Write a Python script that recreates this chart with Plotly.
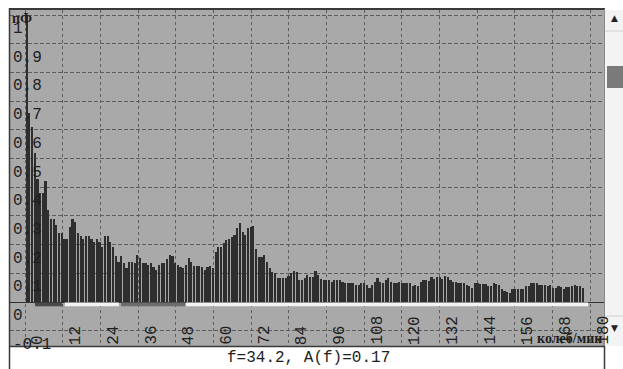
import plotly.graph_objects as go

# ---------------- data ----------------
F0 = 0.6      # first spectral line, колеб/мин
DF = 0.86     # spectral resolution, колеб/мин

amp_low = [1.0, 0.66, 0.61, 0.52, 0.43, 0.38, 0.38, 0.42, 0.32, 0.29,
           0.29, 0.27, 0.24, 0.24, 0.22, 0.22, 0.26, 0.29, 0.28, 0.24,
           0.23, 0.22, 0.23, 0.23, 0.22, 0.21, 0.22, 0.21, 0.19, 0.23,
           0.23, 0.21, 0.19, 0.16, 0.14, 0.16, 0.135, 0.12, 0.14, 0.14]
amp_mid = [0.135, 0.164, 0.153, 0.135, 0.135, 0.13, 0.135, 0.122, 0.11, 0.13,
           0.135, 0.135, 0.15, 0.164, 0.16, 0.135, 0.13, 0.122, 0.118, 0.13,
           0.153, 0.14, 0.125, 0.125, 0.125, 0.122, 0.11, 0.122, 0.125, 0.118,
           0.174, 0.19, 0.19, 0.205, 0.216, 0.22, 0.227, 0.233, 0.258, 0.275,
           0.245, 0.235, 0.257, 0.262, 0.265, 0.185, 0.157, 0.157, 0.164]
amp_high = [0.14, 0.118, 0.105, 0.1, 0.085, 0.085, 0.085, 0.085, 0.09, 0.102,
            0.109, 0.105, 0.077, 0.077, 0.085, 0.094, 0.088, 0.088, 0.109, 0.094,
            0.08, 0.077, 0.077, 0.075, 0.071, 0.077, 0.077, 0.077, 0.071, 0.067,
            0.065, 0.067, 0.065, 0.059, 0.059, 0.067, 0.065, 0.059, 0.048, 0.059,
            0.071, 0.082, 0.071, 0.065, 0.077, 0.082, 0.071, 0.065, 0.067, 0.071,
            0.065, 0.065, 0.065, 0.065, 0.056, 0.059, 0.056, 0.071, 0.077, 0.077]
amp_tail = [0.074, 0.086, 0.08, 0.086, 0.086, 0.08, 0.09, 0.088, 0.077, 0.07,
            0.07, 0.065, 0.067, 0.065, 0.059, 0.056, 0.048, 0.067, 0.067, 0.062,
            0.062, 0.062, 0.056, 0.056, 0.067, 0.062, 0.059, 0.044, 0.039, 0.036,
            0.03, 0.044, 0.044, 0.044, 0.044, 0.044, 0.056, 0.056, 0.065, 0.067,
            0.067, 0.059, 0.059, 0.059, 0.056, 0.059, 0.048, 0.048, 0.056, 0.054,
            0.044, 0.051, 0.051, 0.056, 0.058, 0.056, 0.056, 0.048]

amplitudes = amp_low + amp_mid + amp_high + amp_tail
freqs = [F0 + DF * i for i in range(len(amplitudes))]

x_ticks = [0, 12, 24, 36, 48, 60, 72, 84, 96, 108, 120, 132, 144, 156, 168, 180]
y_ticks = [-0.1, 0.0, 0.1, 0.2, 0.3, 0.4, 0.5, 0.6, 0.7, 0.8, 0.9, 1.0]
y_tick_text = ["-0.1", "0", "0.1", "0.2", "0.3", "0.4", "0.5", "0.6", "0.7", "0.8", "0.9", "1"]

band_start = [3.2, 12.7, 30.6, 51.3]
band_end = [11.8, 29.9, 51.0, 179.4]
band_color = ["#4a4a4a", "#f4f4f4", "#6c6c6c", "#f4f4f4"]

status_text = "f=34.2, A(f)=0.17"
x_title = "колеб/мин"
y_title = "пФ"

# ---------------- layout geometry (pixels) ----------------
W, H = 623, 369
L, R, T, B = 10, 604, 10, 346

def px(xp):
    return (xp - L) / (R - L)

def py(yp):
    return (B - yp) / (B - T)

MONO = "Liberation Mono, Courier New, monospace"
SERIF = "Liberation Serif, Times New Roman, serif"

fig = go.Figure()
fig.add_trace(go.Bar(
    x=freqs, y=amplitudes, width=DF * 0.62,
    marker=dict(color="#2e2e2e", line=dict(width=0)),
    hoverinfo="skip", showlegend=False,
))

shapes = []
# frequency band strip under the zero line
for s, e, c in zip(band_start, band_end, band_color):
    shapes.append(dict(type="rect", xref="x", yref="y", x0=s, x1=e, y0=-0.015, y1=-0.002,
                       fillcolor=c, line=dict(width=0), layer="above"))

# frame lines
frame = "#3a3a3a"
shapes += [
    dict(type="line", xref="paper", yref="paper", x0=px(9), x1=px(605), y0=py(9), y1=py(9),
         line=dict(color=frame, width=2)),
    dict(type="line", xref="paper", yref="paper", x0=px(9.5), x1=px(9.5), y0=py(8), y1=py(369),
         line=dict(color=frame, width=1.5)),
    dict(type="line", xref="paper", yref="paper", x0=px(9), x1=px(605), y0=py(346.5), y1=py(346.5),
         line=dict(color=frame, width=1.5)),
    dict(type="line", xref="paper", yref="paper", x0=px(604.5), x1=px(604.5), y0=py(337), y1=py(369),
         line=dict(color=frame, width=1.5)),
    # scrollbar
    dict(type="rect", xref="paper", yref="paper", x0=px(605), x1=px(623), y0=py(10), y1=py(346),
         fillcolor="#f3f3f3", line=dict(width=0)),
    dict(type="line", xref="paper", yref="paper", x0=px(604.5), x1=px(604.5), y0=py(9), y1=py(346),
         line=dict(color="#8a8a8a", width=1)),
    dict(type="line", xref="paper", yref="paper", x0=px(605), x1=px(623), y0=py(31), y1=py(31),
         line=dict(color="#d0d0d0", width=1)),
    dict(type="line", xref="paper", yref="paper", x0=px(605), x1=px(623), y0=py(316), y1=py(316),
         line=dict(color="#d0d0d0", width=1)),
    dict(type="rect", xref="paper", yref="paper", x0=px(607), x1=px(623), y0=py(66), y1=py(88),
         fillcolor="#7a7a7a", line=dict(width=0)),
]

annotations = []
for v, t in zip(y_ticks, y_tick_text):
    annotations.append(dict(x=0, xref="paper", y=v, yref="y", text=t, showarrow=False,
                            xanchor="left", yanchor="top", xshift=1, yshift=-3,
                            font=dict(family=MONO, size=16, color="#1e1e1e")))
for v in x_ticks:
    annotations.append(dict(x=v, xref="x", y=0, yref="paper", text=str(v), showarrow=False,
                            textangle=-90, xanchor="left", yanchor="bottom", xshift=2, yshift=-1,
                            font=dict(family=MONO, size=16, color="#1e1e1e")))
annotations += [
    dict(x=0, xref="paper", y=1, yref="paper", text="<b>" + y_title + "</b>", showarrow=False,
         xanchor="left", yanchor="top", xshift=0, yshift=1,
         font=dict(family=SERIF, size=14, color="#1e1e1e")),
    dict(x=1, xref="paper", y=0, yref="paper", text="<b>" + x_title + "</b>", showarrow=False,
         xanchor="right", yanchor="bottom", xshift=0, yshift=-2,
         font=dict(family=SERIF, size=14, color="#1e1e1e")),
    dict(x=px(308), xref="paper", y=py(358), yref="paper", text=status_text, showarrow=False,
         xanchor="center", yanchor="middle",
         font=dict(family=MONO, size=16, color="#1e1e1e")),
    dict(x=px(614), xref="paper", y=py(18), yref="paper", text="▲", showarrow=False,
         xanchor="center", yanchor="middle", font=dict(family="DejaVu Sans", size=9, color="#222222")),
    dict(x=px(614), xref="paper", y=py(328), yref="paper", text="▼", showarrow=False,
         xanchor="center", yanchor="middle", font=dict(family="DejaVu Sans", size=9, color="#222222")),
]

grid_color = "#5e5e5e"
fig.update_layout(
    width=W, height=H, autosize=False,
    margin=dict(l=L, r=W - R, t=T, b=H - B, pad=0),
    paper_bgcolor="white", plot_bgcolor="#a9a9a9",
    bargap=0,
    xaxis=dict(range=[(L - 25) / 3.139, (R - 25) / 3.139], tickvals=x_ticks, showticklabels=False,
               ticks="", showgrid=True, gridcolor=grid_color, gridwidth=1, griddash="3px,3px",
               zeroline=False, showline=False, fixedrange=True),
    yaxis=dict(range=[(302 - B) / 287, (302 - T) / 287], tickvals=y_ticks, showticklabels=False,
               ticks="", showgrid=True, gridcolor=grid_color, gridwidth=1, griddash="4px,2px",
               zeroline=True, zerolinecolor="#303030", zerolinewidth=1,
               showline=False, fixedrange=True),
    shapes=shapes, annotations=annotations,
)

fig.write_html("out.html", config={"displayModeBar": False},
               post_script="document.body.style.margin='0';document.body.style.overflow='hidden';")
